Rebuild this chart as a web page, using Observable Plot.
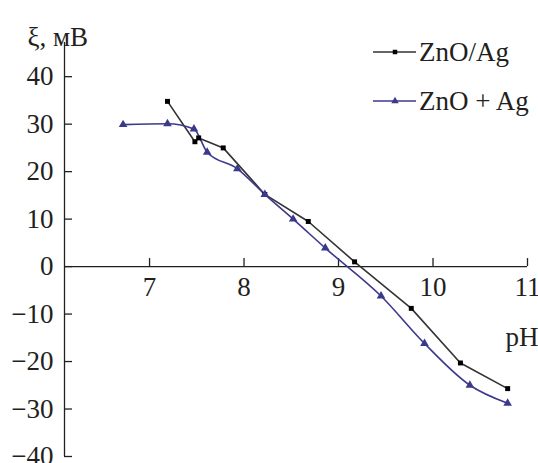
<!DOCTYPE html>
<html>
<head>
<meta charset="utf-8">
<script src="https://cdn.jsdelivr.net/npm/d3@7"></script>
<script src="https://cdn.jsdelivr.net/npm/@observablehq/plot@0.6"></script>
<style>
  html, body { margin: 0; padding: 0; background: #fff; }
  #wrap { position: relative; width: 538px; height: 463px; overflow: hidden; font-family: "Liberation Serif", "DejaVu Serif", serif; color: #231f20; }
  #wrap svg.plot { position: absolute; left: 0; top: 0; }
  .leg { position: absolute; font-size: 27px; line-height: 27px; white-space: nowrap; }
  .sw { position: absolute; }
</style>
</head>
<body>
<div id="wrap"></div>
<script>
// ---- data ----
const seriesNames = ["ZnO/Ag", "ZnO + Ag"];
const seriesColors = ["#333333", "#3b398c"];

const znoAgPH = [7.19, 7.48, 7.52, 7.78, 8.22, 8.68, 9.17, 9.77, 10.29, 10.79];
const znoAgXi = [34.8, 26.3, 27.1, 25.0, 15.2, 9.5, 1.0, -8.8, -20.3, -25.7];

const znoPlusAgPH = [6.72, 7.19, 7.47, 7.61, 7.93, 8.22, 8.52, 8.86, 9.45, 9.91, 10.39, 10.79];
const znoPlusAgXi = [29.9, 30.1, 29.0, 24.1, 20.6, 15.2, 10.0, 3.9, -6.2, -16.2, -25.0, -28.8];

const xTicks = [7, 8, 9, 10, 11];
const yTicks = [-40, -30, -20, -10, 0, 10, 20, 30, 40];
const xDomain = [6.1, 11];
const yDomain = [-40, 47.2];

const yTitle = "ξ, мВ";
const xTitle = "pH";

// ---- tables ----
const s1 = znoAgPH.map((p, i) => ({pH: p, xi: znoAgXi[i]}));
const s2 = znoPlusAgPH.map((p, i) => ({pH: p, xi: znoPlusAgXi[i]}));
const fmt = d => d < 0 ? "\u2212" + Math.abs(d) : String(d);

const chart = Plot.plot({
  width: 538,
  height: 463,
  marginLeft: 64,
  marginRight: 11,
  marginTop: 42,
  marginBottom: 7,
  x: {domain: xDomain, axis: null},
  y: {domain: yDomain, axis: null},
  style: {fontFamily: "Liberation Serif, DejaVu Serif, serif", fontSize: "27px", color: "#231f20", background: "white", overflow: "visible"},
  marks: [
    Plot.ruleX([xDomain[0]], {stroke: "#231f20", strokeWidth: 1.3}),
    Plot.ruleY([0], {stroke: "#231f20", strokeWidth: 1.3}),
    Plot.ruleY(yTicks, {y: d => d, x1: xDomain[0], x2: xDomain[0], insetRight: -8, stroke: "#231f20", strokeWidth: 1.3}),
    Plot.ruleX(xTicks, {x: d => d, y1: 0, y2: 0, insetTop: -8, stroke: "#231f20", strokeWidth: 1.3}),
    Plot.text(yTicks, {x: xDomain[0], y: d => d, text: fmt, textAnchor: "end", dx: -11, fill: "#231f20"}),
    Plot.text(xTicks, {x: d => d, y: 0, text: fmt, dy: 21, fill: "#231f20"}),
    Plot.text([yTitle], {frameAnchor: "top-left", textAnchor: "start", dx: -37, dy: -16, fill: "#231f20"}),
    Plot.text([xTitle], {frameAnchor: "top-right", textAnchor: "end", dx: 11, dy: 284, fill: "#231f20"}),
    Plot.line(s1, {x: "pH", y: "xi", stroke: seriesColors[0], strokeWidth: 1.6}),
    Plot.line(s2, {x: "pH", y: "xi", stroke: seriesColors[1], strokeWidth: 1.6, curve: "monotone-x"}),
    Plot.dot(s1, {x: "pH", y: "xi", symbol: "square", r: 2.8, fill: "#000", stroke: "none"}),
    Plot.dot(s2, {x: "pH", y: "xi", symbol: "triangle", r: 3.2, fill: seriesColors[1], stroke: "none"})
  ]
});

const wrap = document.getElementById("wrap");
wrap.appendChild(chart);

// ---- legend ----
const legRows = [
  {name: seriesNames[0], color: seriesColors[0], mark: "#000", sym: "square", lineY: 52, textTop: 38.5},
  {name: seriesNames[1], color: seriesColors[1], mark: seriesColors[1], sym: "triangle", lineY: 101, textTop: 88}
];
legRows.forEach(r => {
  const sw = document.createElementNS("http://www.w3.org/2000/svg", "svg");
  sw.setAttribute("class", "sw");
  sw.setAttribute("width", 44);
  sw.setAttribute("height", 12);
  sw.style.left = "373px";
  sw.style.top = (r.lineY - 6) + "px";
  const ln = document.createElementNS("http://www.w3.org/2000/svg", "line");
  ln.setAttribute("x1", 0); ln.setAttribute("x2", 43); ln.setAttribute("y1", 6); ln.setAttribute("y2", 6);
  ln.setAttribute("stroke", r.color); ln.setAttribute("stroke-width", 1.6);
  sw.appendChild(ln);
  const p = document.createElementNS("http://www.w3.org/2000/svg", "path");
  p.setAttribute("d", d3.symbol(r.sym === "square" ? d3.symbolSquare : d3.symbolTriangle, r.sym === "square" ? 20 : 24)());
  p.setAttribute("transform", "translate(22,6)");
  p.setAttribute("fill", r.mark);
  sw.appendChild(p);
  wrap.appendChild(sw);
  const t = document.createElement("div");
  t.className = "leg";
  t.textContent = r.name;
  t.style.left = "419px";
  t.style.top = r.textTop + "px";
  wrap.appendChild(t);
});
</script>
</body>
</html>
